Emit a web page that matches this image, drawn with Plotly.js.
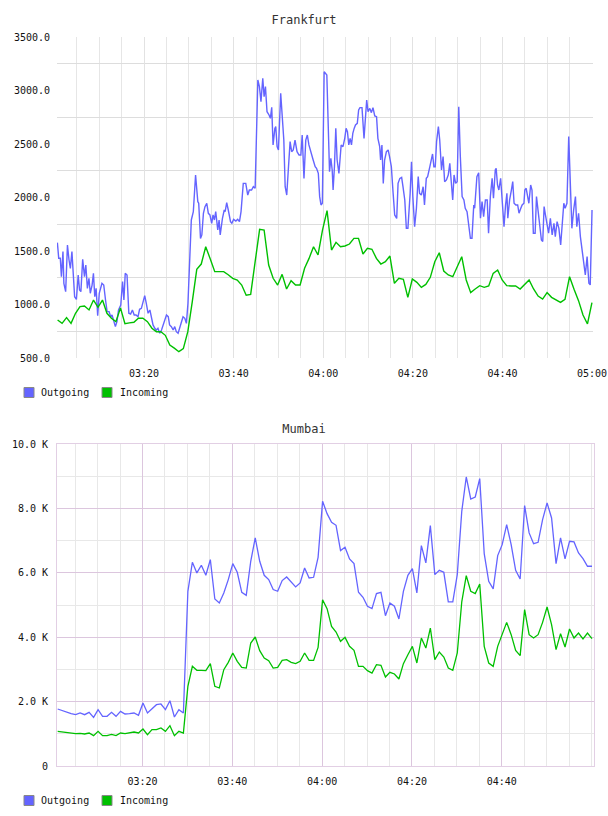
<!DOCTYPE html>
<html>
<head>
<meta charset="utf-8">
<script src="https://cdn.plot.ly/plotly-3.0.1.min.js"></script>
<style>
  html, body { margin: 0; padding: 0; background: #ffffff; }
  .chart { width: 608px; height: 408px; }
</style>
</head>
<body>
<div id="frankfurt" class="chart"></div>
<div id="mumbai" class="chart"></div>
<script>
// ---- Frankfurt: outgoing traffic (irregular samples, minutes after 03:00) ----
const frankfurtOutMinutes = [
  0.65, 0.95, 1.3, 1.55, 1.9, 2.1, 2.5, 2.9, 3.25, 3.55,
  3.9, 4.2, 4.5, 4.9, 5.3, 5.6, 5.9, 6.3, 6.7, 7.0,
  7.35, 7.7, 8.0, 8.4, 8.7, 9.0, 9.3, 9.65, 10.0, 10.6,
  11.0, 11.4, 11.75, 12.2, 12.55, 12.85, 13.2, 13.6, 13.95, 14.3,
  14.8, 15.2, 15.5, 15.8, 16.2, 16.6, 17.0, 17.4, 17.8, 18.2,
  18.65, 19.0, 19.4, 19.8, 20.15, 20.5, 20.9, 21.3, 21.6, 22.0,
  22.4, 22.75, 23.1, 23.5, 23.9, 24.25, 24.6, 25.0, 25.4, 25.7,
  26.1, 26.5, 26.85, 27.2, 27.6, 28.0, 28.3, 28.7, 29.1, 29.45,
  29.8, 30.2, 30.55, 31.0, 31.5, 32.0, 32.2, 32.6, 32.9, 33.25,
  33.6, 34.0, 34.35, 34.7, 35.1, 35.4, 35.7, 36.0, 36.45, 36.75,
  37.0, 37.5, 37.9, 38.1, 38.45, 38.8, 39.3, 39.6, 40.0, 40.5,
  40.9, 41.3, 41.65, 42.15, 42.7, 43.15, 43.5, 44.0, 44.4, 44.8,
  45.4, 45.75, 46.1, 46.5, 46.8, 47.1, 47.45, 47.9, 48.2, 48.5,
  48.8, 49.2, 49.4, 49.7, 50.0, 50.5, 50.9, 51.2, 51.5, 51.85,
  52.2, 52.6, 52.95, 53.3, 53.7, 54.15, 54.6, 55.0, 55.3, 55.7,
  56.1, 56.45, 56.8, 57.3, 57.75, 58.2, 58.5, 58.9, 59.2, 59.5,
  59.8, 60.2, 60.5, 60.8, 61.1, 61.4, 61.7, 62.0, 62.2, 62.5,
  62.8, 63.1, 63.5, 63.8, 64.0, 64.4, 64.8, 65.1, 65.4, 65.7,
  66.0, 66.3, 66.6, 66.9, 67.2, 67.6, 67.9, 68.2, 68.65, 69.1,
  69.4, 69.7, 70.0, 70.4, 70.75, 71.1, 71.5, 71.9, 72.2, 72.6,
  72.8, 73.1, 73.4, 73.7, 74.1, 74.5, 74.8, 75.2, 75.6, 75.95,
  76.4, 76.7, 77.1, 77.5, 77.8, 78.2, 78.55, 78.9, 79.4, 79.7,
  80.0, 80.4, 80.8, 81.2, 81.5, 81.9, 82.3, 82.6, 83.0, 83.3,
  83.8, 84.1, 84.4, 84.7, 85.0, 85.3, 85.7, 86.0, 86.4, 86.75,
  87.1, 87.5, 87.9, 88.25, 88.6, 88.9, 89.2, 89.55, 89.9, 90.25,
  90.6, 91.0, 91.4, 91.7, 92.1, 92.5, 92.85, 93.2, 93.6, 93.8,
  94.1, 94.3, 94.7, 95.1, 95.45, 95.8, 96.2, 96.6, 96.9, 97.3,
  97.7, 98.0, 98.4, 98.6, 98.9, 99.2, 99.6, 100.0, 100.35, 100.7,
  101.0, 101.2, 101.6, 102.0, 102.3, 102.6, 103.0, 103.4, 103.7, 104.1,
  104.4, 104.8, 105.0, 105.3, 105.6, 105.9, 106.3, 106.6, 106.9, 107.3,
  107.6, 108.0, 108.3, 108.7, 109.0, 109.3, 109.6, 110.0, 110.3, 110.7,
  111.1, 111.5, 111.8, 112.2, 112.6, 113.0, 113.3, 113.7, 114.0, 114.4,
  114.8, 115.1, 115.5, 115.9, 116.3, 116.6, 117.0, 117.4, 117.8, 118.1,
  118.5, 118.9, 119.3, 119.6, 120.0
];
const frankfurtOutValues = [
  1578, 1432, 1432, 1260, 1494, 1198, 1120, 1556, 1416, 1338,
  1494, 1245, 1073, 1048, 1276, 1136, 1120, 1422, 1260, 1369,
  1151, 1245, 1105, 1182, 1291, 1073, 1151, 896, 1105, 1198,
  1182, 1042, 933, 933, 886, 902, 855, 793, 840, 949,
  995, 1214, 1042, 1291, 1276, 918, 911, 949, 902, 902,
  886, 955, 964, 1027, 1083, 1011, 918, 949, 871, 809,
  777, 762, 777, 731, 762, 809, 840, 902, 886, 809,
  793, 762, 793, 746, 731, 793, 840, 886, 871, 824,
  1011, 1541, 1790, 1868, 2210, 1961, 1946, 1618, 1650, 1852,
  1914, 1946, 1852, 1837, 1759, 1837, 1790, 1868, 1696, 1790,
  1650, 1805, 1883, 1868, 1952, 1883, 1774, 1759, 1796, 1780,
  1796, 1774, 1868, 2132, 2132, 2023, 2070, 2070, 2101, 2086,
  3098, 3036, 2896, 3114, 2942, 3036, 2802, 2771, 2740, 2843,
  2491, 2646, 2662, 2475, 2444, 2974, 2755, 2537, 2101, 2023,
  2257, 2522, 2428, 2444, 2537, 2428, 2397, 2397, 2584, 2179,
  2537, 2584, 2491, 2428, 2350, 2288, 2273, 2226, 2008, 1930,
  1946, 3176, 3160, 3145, 2693, 2241, 2366, 2257, 2070, 2288,
  2646, 2350, 2226, 2382, 2491, 2475, 2553, 2646, 2615, 2491,
  2553, 2491, 2600, 2646, 2678, 2693, 2818, 2840, 2840, 2553,
  2755, 2911, 2802, 2833, 2793, 2840, 2762, 2755, 2553, 2475,
  2350, 2491, 2132, 2350, 2428, 2444, 2382, 2288, 2039, 1837,
  1805, 2132, 2179, 2189, 2101, 1977, 1712, 1712, 2039, 2335,
  2008, 1727, 1899, 2195, 2039, 2023, 2101, 1930, 2179, 2195,
  2288, 2350, 2407, 2288, 2288, 2522, 2662, 2537, 2257, 2382,
  2148, 2164, 2210, 2319, 2148, 1977, 2211, 2133, 2148, 2849,
  2382, 2008, 1977, 1899, 1868, 1759, 1619, 1619, 1930, 1899,
  2039, 2195, 2232, 1806, 1962, 1821, 1977, 1977, 1666, 2008,
  2180, 1993, 2257, 2273, 2117, 2070, 2180, 1977, 1728, 1930,
  2039, 1806, 1977, 2070, 2148, 1946, 1930, 1930, 1853, 1899,
  1930, 1946, 2070, 2086, 2024, 1946, 2117, 2070, 1666, 1666,
  2008, 1853, 1697, 1603, 1588, 1915, 1837, 1728, 1666, 1806,
  1650, 1759, 1634, 1775, 1712, 1556, 1759, 1946, 1899, 1946,
  2569, 2226, 1712, 1884, 2008, 1728, 1853, 1634, 1494, 1416,
  1276, 1447, 1198, 1183, 1884
];

// ---- Frankfurt: incoming traffic, one sample per ~60 s from 03:00:42 ----
const frankfurtInStart = 0.7;     // minutes after 03:00
const frankfurtInStep = 1.0025;   // minutes between samples
const frankfurtInValues = [
  855, 824, 877, 824, 918, 980, 986, 949, 1042, 974,
  1042, 918, 871, 840, 968, 821, 828, 834, 871, 871,
  840, 778, 746, 746, 712, 622, 592, 559, 588, 746,
  1027, 1329, 1378, 1540, 1425, 1307, 1307, 1307, 1278, 1245,
  1229, 1182, 1086, 1095, 1400, 1702, 1696, 1369, 1245, 1182,
  1282, 1145, 1223, 1182, 1182, 1338, 1431, 1540, 1463, 1696,
  1877, 1509, 1581, 1540, 1547, 1565, 1618, 1618, 1472, 1525,
  1516, 1431, 1378, 1400, 1453, 1198, 1245, 1235, 1067, 1238,
  1207, 1160, 1188, 1254, 1400, 1484, 1313, 1276, 1260, 1354,
  1447, 1229, 1111, 1145, 1176, 1160, 1173, 1291, 1322, 1229,
  1176, 1173, 1173, 1145, 1188, 1229, 1145, 1079, 1051, 1111,
  1067, 1042, 1020, 1048, 1260, 1142, 1036, 902, 818, 1017
];

// ---- Mumbai: both series sampled once a minute from 03:01:06 ----
const mumbaiStart = 1.1;
const mumbaiStep = 1.0;
const mumbaiOutValues = [
  1770, 1718, 1677, 1625, 1594, 1646, 1594, 1667, 1511, 1750,
  1543, 1543, 1667, 1543, 1698, 1615, 1625, 1646, 1574, 1956,
  1646, 1770, 1905, 1926, 1750, 2029, 1522, 1750, 1646, 5426,
  6327, 5996, 6234, 5923, 6410, 5188, 5064, 5374, 5789, 6285,
  6016, 5395, 5302, 6358, 7082, 6358, 5923, 5789, 5478, 5426,
  5758, 5871, 5706, 5561, 5685, 6151, 5840, 5861, 6482, 8221,
  7838, 7569, 7476, 6689, 6792, 6430, 6285, 5395, 5240, 4961,
  4888, 5354, 5395, 4668, 5064, 4961, 4565, 5426, 5923, 6130,
  5374, 6844, 6306, 7465, 5944, 6078, 6016, 5095, 5095, 5944,
  7910, 8976, 8293, 8355, 8925, 6596, 5737, 5499, 6534, 6875,
  7496, 6875, 6078, 5809, 8086, 7238, 6906, 6948, 7652, 8169,
  7703, 6285, 7082, 6430, 6979, 6958, 6617, 6441, 6203, 6203
];
const mumbaiInValues = [
  1077, 1056, 1046, 1004, 1004, 1015, 994, 1025, 942, 1077,
  942, 942, 984, 942, 1025, 1004, 1025, 1056, 1025, 1149,
  973, 1129, 1129, 1180, 1077, 1253, 942, 1077, 1025, 2474,
  3095, 2971, 2971, 2960, 3178, 2474, 2422, 2992, 3219, 3509,
  3250, 3064, 3043, 3820, 4006, 3581, 3354, 3271, 3043, 3064,
  3281, 3302, 3219, 3178, 3250, 3509, 3281, 3281, 3685, 5165,
  4886, 4337, 4161, 3871, 3995, 3716, 3592, 3095, 3095, 2960,
  2888, 3147, 3126, 2764, 2909, 2857, 2702, 3178, 3457, 3716,
  3199, 3975, 3664, 4285, 3302, 3540, 3385, 3043, 2971, 3509,
  5100, 5913, 5426, 5354, 5654, 3716, 3199, 3095, 3716, 4078,
  4461, 4078, 3592, 3426, 4855, 4078, 3975, 4078, 4461, 4937,
  4389, 3613, 4109, 3695, 4254, 3975, 4130, 3944, 4130, 3954
];

const seriesNames = ['Outgoing', 'Incoming'];
const seriesColors = ['#6464ff', '#00c000'];
const frankfurtYTicks = [500, 1000, 1500, 2000, 2500, 3000, 3500];
const mumbaiYTicks = [0, 2000, 4000, 6000, 8000, 10000];

// ---- helpers ----
const MONO = '"DejaVu Sans Mono", "Liberation Mono", monospace';
const DAY0 = Date.UTC(2014, 2, 11, 0, 0, 0);
function clock(minAfter3) {
  // timestamp string for a time given in minutes after 03:00
  const d = new Date(DAY0 + Math.round((180 + minAfter3) * 60000));
  return d.toISOString().slice(0, 19).replace('T', ' ');
}
function uniformTimes(start, step, n) {
  const out = [];
  for (let i = 0; i < n; i++) out.push(clock(start + i * step));
  return out;
}
function everyMinutes(from, to, step) {
  const out = [];
  for (let m = from; m <= to + 1e-9; m += step) out.push(clock(m));
  return out;
}

// draws a small legend (square swatch + label) beneath the plot area
function legendBits(box) {
  const W = 608, H = 408;
  const px = x => (x - box.l) / (W - box.l - box.r);
  const py = y => (H - box.b - y) / (H - box.t - box.b);
  const swatches = [[24, 39], [102, 118]];
  const shapes = [], annotations = [];
  swatches.forEach((s, i) => {
    shapes.push({
      type: 'rect', xref: 'paper', yref: 'paper',
      x0: px(s[0]), x1: px(s[0] + 10), y0: py(387.5), y1: py(397.5),
      fillcolor: seriesColors[i], line: { color: '#888888', width: 1 }
    });
    annotations.push({
      xref: 'paper', yref: 'paper', x: px(s[1]), y: py(392.5),
      xanchor: 'left', yanchor: 'middle', showarrow: false,
      text: seriesNames[i], font: { family: MONO, size: 10, color: '#111111' }
    });
  });
  return { shapes, annotations };
}

// ---- Frankfurt chart ----
(function () {
  const box = { l: 57, r: 15, t: 37, b: 50 };
  const leg = legendBits(box);
  const traces = [
    {
      x: frankfurtOutMinutes.map(clock), y: frankfurtOutValues,
      type: 'scatter', mode: 'lines', name: seriesNames[0],
      line: { color: seriesColors[0], width: 1.4 }
    },
    {
      x: uniformTimes(frankfurtInStart, frankfurtInStep, frankfurtInValues.length),
      y: frankfurtInValues,
      type: 'scatter', mode: 'lines', name: seriesNames[1],
      line: { color: seriesColors[1], width: 1.4 }
    }
  ];
  const minorY = [];
  for (let i = 0; i < frankfurtYTicks.length - 1; i++) {
    minorY.push((frankfurtYTicks[i] + frankfurtYTicks[i + 1]) / 2);
  }
  const layout = {
    width: 608, height: 408,
    margin: box,
    paper_bgcolor: '#ffffff', plot_bgcolor: '#ffffff',
    showlegend: false,
    title: {
      text: 'Frankfurt', font: { family: MONO, size: 12, color: '#333333' },
      xref: 'container', yref: 'container', x: 0.5, xanchor: 'center',
      y: 1 - 20 / 408, yanchor: 'middle'
    },
    xaxis: {
      type: 'date',
      range: [clock(0.58), clock(120.22)],
      tickmode: 'array', tickvals: everyMinutes(20, 120, 20), tickformat: '%H:%M',
      ticks: '', ticklabelstandoff: 8,
      showgrid: true, gridcolor: '#e2e2e2', gridwidth: 1,
      minor: { tickmode: 'array', tickvals: everyMinutes(5, 120, 5), showgrid: true, gridcolor: '#e6e6e6', ticks: '' },
      showline: false, zeroline: false,
      tickfont: { family: MONO, size: 10, color: '#111111' }
    },
    yaxis: {
      range: [500, 3500],
      tickmode: 'array', tickvals: frankfurtYTicks, tickformat: '.1f',
      ticks: '', ticklabelstandoff: 6,
      showgrid: false,
      minor: { tickmode: 'array', tickvals: minorY, showgrid: true, gridcolor: '#dddddd', ticks: '' },
      showline: false, zeroline: false,
      tickfont: { family: MONO, size: 10, color: '#111111' }
    },
    shapes: leg.shapes,
    annotations: leg.annotations
  };
  Plotly.newPlot('frankfurt', traces, layout, { displayModeBar: false, staticPlot: true });
})();

// ---- Mumbai chart ----
(function () {
  const box = { l: 57, r: 14, t: 36, b: 50 };
  const leg = legendBits(box);
  const times = uniformTimes(mumbaiStart, mumbaiStep, mumbaiOutValues.length);
  const traces = [
    {
      x: times, y: mumbaiOutValues,
      type: 'scatter', mode: 'lines', name: seriesNames[0],
      line: { color: seriesColors[0], width: 1.3 }
    },
    {
      x: times, y: mumbaiInValues,
      type: 'scatter', mode: 'lines', name: seriesNames[1],
      line: { color: seriesColors[1], width: 1.3 }
    }
  ];
  const minorY = [];
  for (let i = 0; i < mumbaiYTicks.length - 1; i++) {
    minorY.push((mumbaiYTicks[i] + mumbaiYTicks[i + 1]) / 2);
  }
  const layout = {
    width: 608, height: 408,
    margin: box,
    paper_bgcolor: '#ffffff', plot_bgcolor: '#ffffff',
    showlegend: false,
    title: {
      text: 'Mumbai', font: { family: MONO, size: 12, color: '#333333' },
      xref: 'container', yref: 'container', x: 0.5, xanchor: 'center',
      y: 1 - 21 / 408, yanchor: 'middle'
    },
    xaxis: {
      type: 'date',
      range: [clock(0.95), clock(120.55)],
      tickmode: 'array', tickvals: everyMinutes(20, 100, 20), tickformat: '%H:%M',
      ticks: '', ticklabelstandoff: 6,
      showgrid: true, gridcolor: '#dcc6de', gridwidth: 1,
      minor: { tickmode: 'array', tickvals: everyMinutes(5, 120, 5), showgrid: true, gridcolor: '#e8e8e8', ticks: '' },
      showline: true, linecolor: '#e2cfe4', linewidth: 1, mirror: true, zeroline: false,
      tickfont: { family: MONO, size: 10, color: '#111111' }
    },
    yaxis: {
      range: [0, 10000],
      tickmode: 'array', tickvals: mumbaiYTicks,
      ticktext: mumbaiYTicks.map(v => v === 0 ? '0' : (v / 1000).toFixed(1) + ' K'),
      ticks: '', ticklabelstandoff: 6,
      showgrid: true, gridcolor: '#dcc6de', gridwidth: 1,
      minor: { tickmode: 'array', tickvals: minorY, showgrid: true, gridcolor: '#e8e8e8', ticks: '' },
      showline: true, linecolor: '#e2cfe4', linewidth: 1, mirror: true, zeroline: false,
      tickfont: { family: MONO, size: 10, color: '#111111' }
    },
    shapes: leg.shapes,
    annotations: leg.annotations
  };
  Plotly.newPlot('mumbai', traces, layout, { displayModeBar: false, staticPlot: true });
})();
</script>
</body>
</html>
